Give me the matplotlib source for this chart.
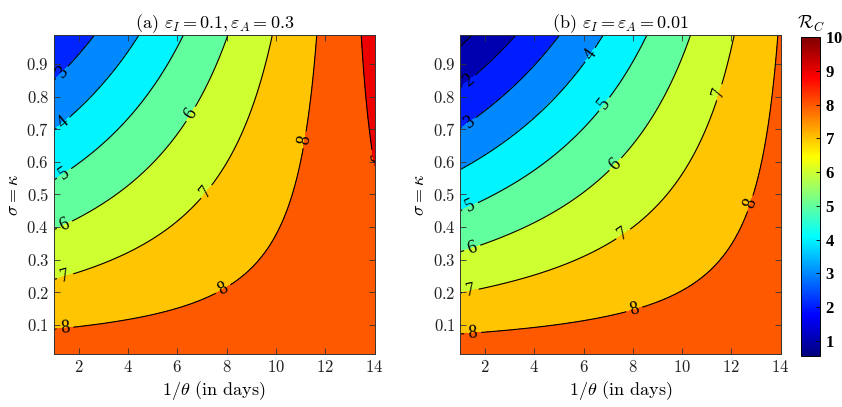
import numpy as np
import matplotlib.pyplot as plt
from matplotlib.colors import LinearSegmentedColormap, Normalize
from matplotlib.cm import ScalarMappable

plt.rcParams['mathtext.fontset'] = 'cm'
plt.rcParams['font.family'] = 'serif'
plt.rcParams['font.serif'] = ['cmr10', 'DejaVu Serif']
plt.rcParams['axes.formatter.use_mathtext'] = True

# R_C at the corners of the (1/theta, sigma) domain; rows = sigma, cols = 1/theta
days_edges = [1, 14]
sigma_edges = [0.01, 0.99]
rc_a = [[8.50, 8.57],
        [2.08, 9.30]]
rc_b = [[8.49, 8.57],
        [0.72, 8.06]]

levels = [1, 2, 3, 4, 5, 6, 7, 8, 9]
clim = (0.55, 10)

titles = [r'(a) $\varepsilon_I = 0.1, \varepsilon_A = 0.3$',
          r'(b) $\varepsilon_I = \varepsilon_A = 0.01$']

# where the inline level labels sit
label_pos_a = [(1.45, 0.864), (1.45, 0.712), (1.45, 0.56), (1.45, 0.403),
               (1.45, 0.25), (1.45, 0.083), (6.64, 0.743), (7.25, 0.504),
               (7.93, 0.2), (11.16, 0.667), (13.85, 0.61)]
label_pos_b = [(1.37, 0.847), (1.37, 0.716), (1.43, 0.457), (1.5, 0.33),
               (1.43, 0.193), (1.5, 0.067), (6.33, 0.924), (6.94, 0.771),
               (7.41, 0.584), (7.68, 0.371), (8.09, 0.138), (11.56, 0.812),
               (12.98, 0.467)]

# MATLAB-style jet
jet = LinearSegmentedColormap('mjet', {
    'red':   [(0, 0, 0), (3/8, 0, 0), (5/8, 1, 1), (7/8, 1, 1), (1, 0.5, 0.5)],
    'green': [(0, 0, 0), (1/8, 0, 0), (3/8, 1, 1), (5/8, 1, 1), (7/8, 0, 0), (1, 0, 0)],
    'blue':  [(0, 0.5, 0.5), (1/8, 1, 1), (3/8, 1, 1), (5/8, 0, 0), (1, 0, 0)],
}, N=256)
norm = Normalize(*clim)

tau = np.linspace(days_edges[0], days_edges[1], 400)
sig = np.linspace(sigma_edges[0], sigma_edges[1], 300)
T, S = np.meshgrid(tau, sig)


def rc_field(corners):
    # R_C is bilinear in (1/theta, sigma)
    c = np.array(corners)
    t = (T - days_edges[0]) / (days_edges[1] - days_edges[0])
    u = (S - sigma_edges[0]) / (sigma_edges[1] - sigma_edges[0])
    return ((1 - u) * ((1 - t) * c[0, 0] + t * c[0, 1])
            + u * ((1 - t) * c[1, 0] + t * c[1, 1]))


fig = plt.figure(figsize=(8.42, 4.07), dpi=100)
ax_a = fig.add_axes([0.0641, 0.130, 0.3807, 0.785])
ax_b = fig.add_axes([0.5469, 0.130, 0.3801, 0.785])

for ax, corners, title, lpos in [(ax_a, rc_a, titles[0], label_pos_a),
                                 (ax_b, rc_b, titles[1], label_pos_b)]:
    Z = rc_field(corners)
    bounds = [0] + levels + [11]
    # each band takes the colour of its lower bound
    fill_cols = [jet(norm(max(lo, Z.min()))) for lo in bounds[:-1]]
    ax.contourf(T, S, Z, levels=bounds, colors=fill_cols)
    cs = ax.contour(T, S, Z, levels=levels, colors='k', linewidths=0.8)
    with plt.rc_context({'font.family': 'Liberation Serif'}):
        ax.clabel(cs, fmt='%d', manual=lpos, inline=True,
                  inline_spacing=4, fontsize=13)

    ax.set_xlim(1, 14)
    ax.set_ylim(0.01, 0.99)
    ax.set_xticks([2, 4, 6, 8, 10, 12, 14])
    ax.set_yticks([0.1, 0.2, 0.3, 0.4, 0.5, 0.6, 0.7, 0.8, 0.9])
    ax.tick_params(direction='in', top=True, right=True, length=4,
                   width=0.6, labelsize=12, colors='#333333',
                   labelcolor='#222222')
    for sp in ax.spines.values():
        sp.set_linewidth(0.7)
        sp.set_color('#333333')
    ax.set_title(title, fontsize=13, pad=5)
    ax.set_xlabel(r'$1/\theta$ (in days)', fontsize=13, labelpad=3)
    ax.set_ylabel(r'$\sigma = \kappa$', fontsize=13, labelpad=4)

cax = fig.add_axes([0.9513, 0.126, 0.0226, 0.782])
sm = ScalarMappable(norm=norm, cmap=jet)
cb = fig.colorbar(sm, cax=cax, ticks=range(1, 11))
cb.outline.set_linewidth(0.7)
cax.tick_params(direction='in', length=3, width=0.6, labelsize=12)
for lbl in cax.get_yticklabels():
    lbl.set_family('Liberation Serif')
    lbl.set_weight('bold')
cax.set_title(r'$\mathcal{R}_C$', fontsize=13, pad=6)

fig.savefig('out.png', dpi=100)
